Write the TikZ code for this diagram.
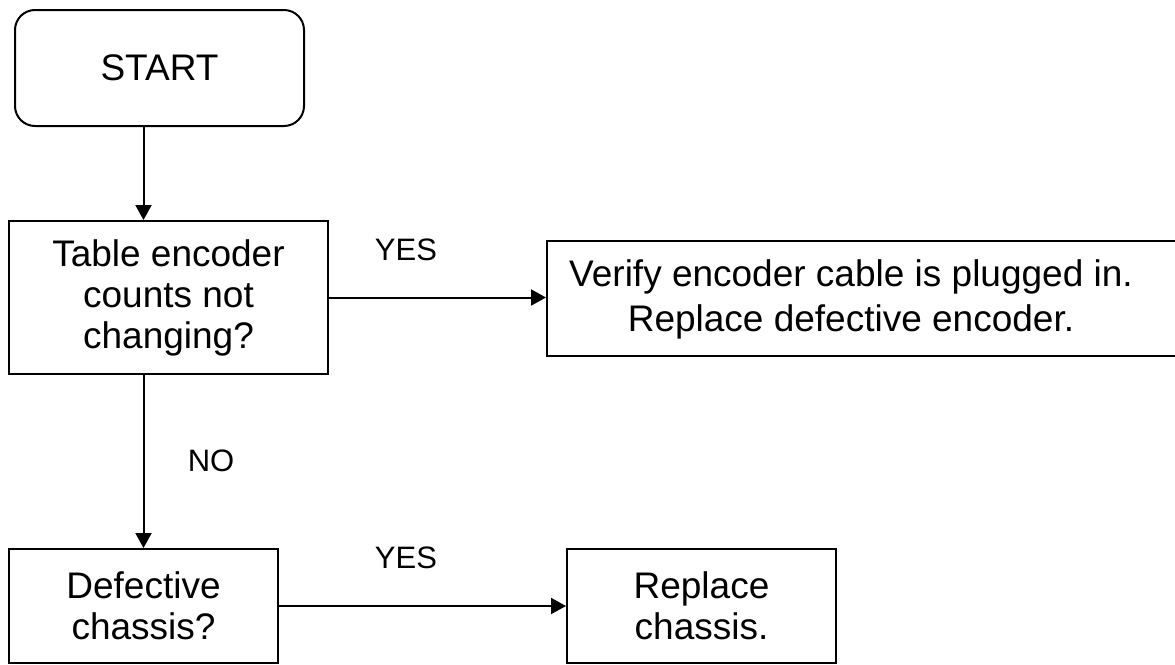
\documentclass[tikz,border=0pt]{standalone}
\usepackage{fontspec}
\setmainfont{Liberation Sans}
\usetikzlibrary{arrows.meta}
\begin{document}
\begin{tikzpicture}[x=1pt,y=-1pt,
  line width=2pt,
  every node/.style={font=\fontsize{37}{41}\selectfont, inner sep=0pt},
  box/.style={draw, rectangle, align=center},
  lbl/.style={font=\fontsize{31}{36}\selectfont},
  arr/.style={-{Triangle[width=16pt,length=15pt]}}]
\useasboundingbox (0,0) rectangle (1175,664);
\node[box, rounded corners=20pt, minimum width=289pt, minimum height=116pt] (start) at (159.5,68) {START};
\node[box, minimum width=319pt, minimum height=153pt] (table) at (168.5,297.5) {Table encoder\\counts not\\changing?};
\node[box, minimum width=640pt, minimum height=115pt] (verify) at (867,298.5) {};
\node[align=center, font=\fontsize{37}{45}\selectfont] (verifytext) at (851,299) {Verify encoder cable is plugged in.\\Replace defective encoder.};
\node[box, minimum width=269pt, minimum height=114pt] (defect) at (143.5,606) {Defective\\chassis?};
\node[box, minimum width=269pt, minimum height=114pt] (replace) at (701.5,606) {Replace\\chassis.};
\node[lbl] (yes1) at (406,250) {YES};
\node[lbl] (no) at (211,461) {NO};
\node[lbl] (yes2) at (406,558) {YES};
\draw[arr] ([xshift=-16pt]start.south) -- ([xshift=-25pt]table.north);
\draw[arr] (table.east) -- (table.east -| verify.west);
\draw[arr] (table.south -| defect.north) -- (defect.north);
\draw[arr] (defect.east) -- (replace.west);
\end{tikzpicture}
\end{document}
